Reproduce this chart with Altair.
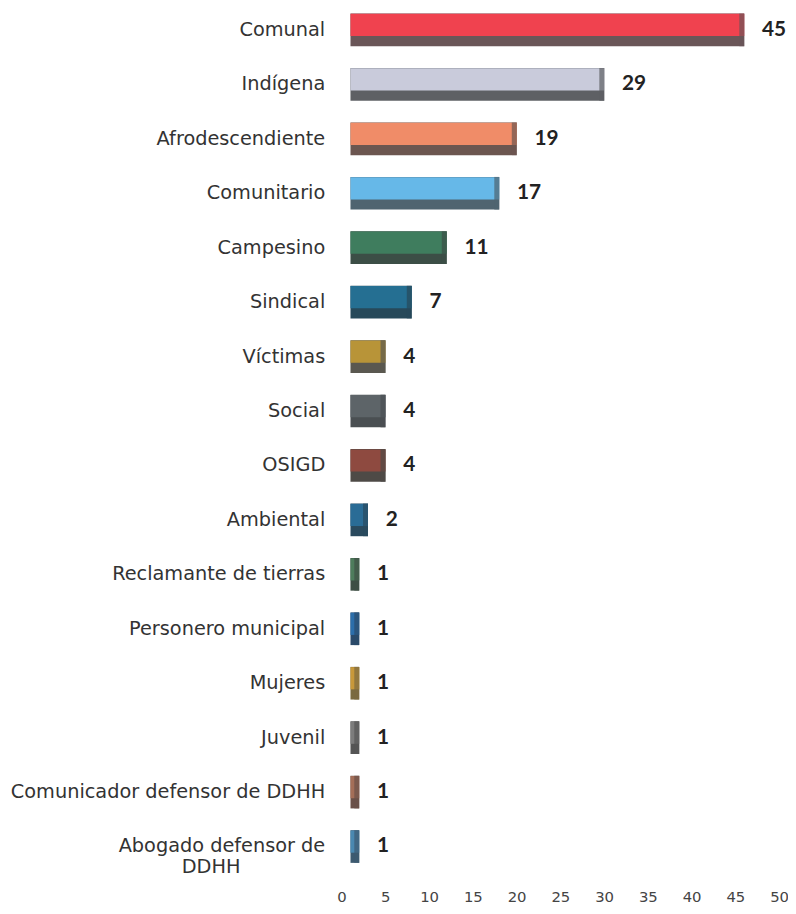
import altair as alt
import pandas as pd

categories = [
    "Comunal", "Indígena", "Afrodescendiente", "Comunitario", "Campesino",
    "Sindical", "Víctimas", "Social", "OSIGD", "Ambiental",
    "Reclamante de tierras", "Personero municipal", "Mujeres", "Juvenil",
    "Comunicador defensor de DDHH", "Abogado defensor de DDHH",
]
values = [45, 29, 19, 17, 11, 7, 4, 4, 4, 2, 1, 1, 1, 1, 1, 1]

face_colors = [
    "#f0424f", "#c9cbdb", "#f08c68", "#66b8e8", "#3f7d5e",
    "#256f92", "#b89438", "#5d6468", "#8e4a40", "#2a6c96",
    "#4e7c5c", "#2c6eaa", "#c8983a", "#7c7c7c", "#a46e58", "#4a88b0",
]
edge_colors = [
    "#6a5658", "#5e6064", "#6c5650", "#4f6470", "#3c4e46",
    "#27495a", "#5a5850", "#4a4f52", "#4e4a46", "#2a4a5e",
    "#3e4e44", "#2b4a6a", "#7a6a40", "#555555", "#6a5048", "#3d5a70",
]
x_ticks = [0, 5, 10, 15, 20, 25, 30, 35, 40, 45, 50]

df = pd.DataFrame({"cat": categories, "val": values})

FONT = "DejaVu Sans"
PAD = "\u2800" * 6

y_enc = alt.Y(
    "cat:N",
    sort=categories,
    scale=alt.Scale(paddingInner=0.4, paddingOuter=0.2),
    axis=alt.Axis(
        title=None, domain=False, ticks=False, labelFontSize=19.5,
        labelColor="#333333", labelFont=FONT, labelPadding=26,
        labelLimit=400, labelLineHeight=21,
        labelExpr="datum.label == 'Abogado defensor de DDHH' ? ['Abogado defensor de', 'DDHH" + PAD + "'] : datum.label",
    ),
)
x_enc = alt.X(
    "val:Q",
    scale=alt.Scale(domain=[0, 50], nice=False),
    axis=alt.Axis(
        title=None, domain=False, ticks=False, grid=False, values=x_ticks,
        labelFontSize=15, labelColor="#444444", labelFont=FONT, labelPadding=16,
        labelOffset=-9, labelFlush=False,
    ),
)

base = alt.Chart(df).encode(y=y_enc, x=x_enc)

edge = base.mark_bar().encode(
    color=alt.Color("cat:N", scale=alt.Scale(domain=categories, range=edge_colors), legend=None)
)
face = base.mark_bar(height={"band": 0.68}, yOffset=-5).encode(
    color=alt.Color("cat:N", scale=alt.Scale(domain=categories, range=face_colors), legend=None)
)
cap = base.mark_tick(thickness=5, size=33, xOffset=-2.5, orient="vertical").encode(
    color=alt.Color("cat:N", scale=alt.Scale(domain=categories, range=edge_colors), legend=None)
)
labels = base.mark_text(
    align="left", baseline="middle", dx=18, fontSize=21, fontWeight="bold",
    color="#222222", font="Lato",
).encode(text="val:Q")

chart = (
    alt.layer(edge, face, cap, labels)
    .resolve_scale(color="independent")
    .properties(
        width=442, height=880,
        autosize=alt.AutoSizeParams(type="none"),
        padding={"top": -10, "left": 346, "right": 0, "bottom": 34},
    )
    .configure_view(stroke=None)
)

chart.save("out.html", embed_options={"renderer": "svg", "actions": False})
